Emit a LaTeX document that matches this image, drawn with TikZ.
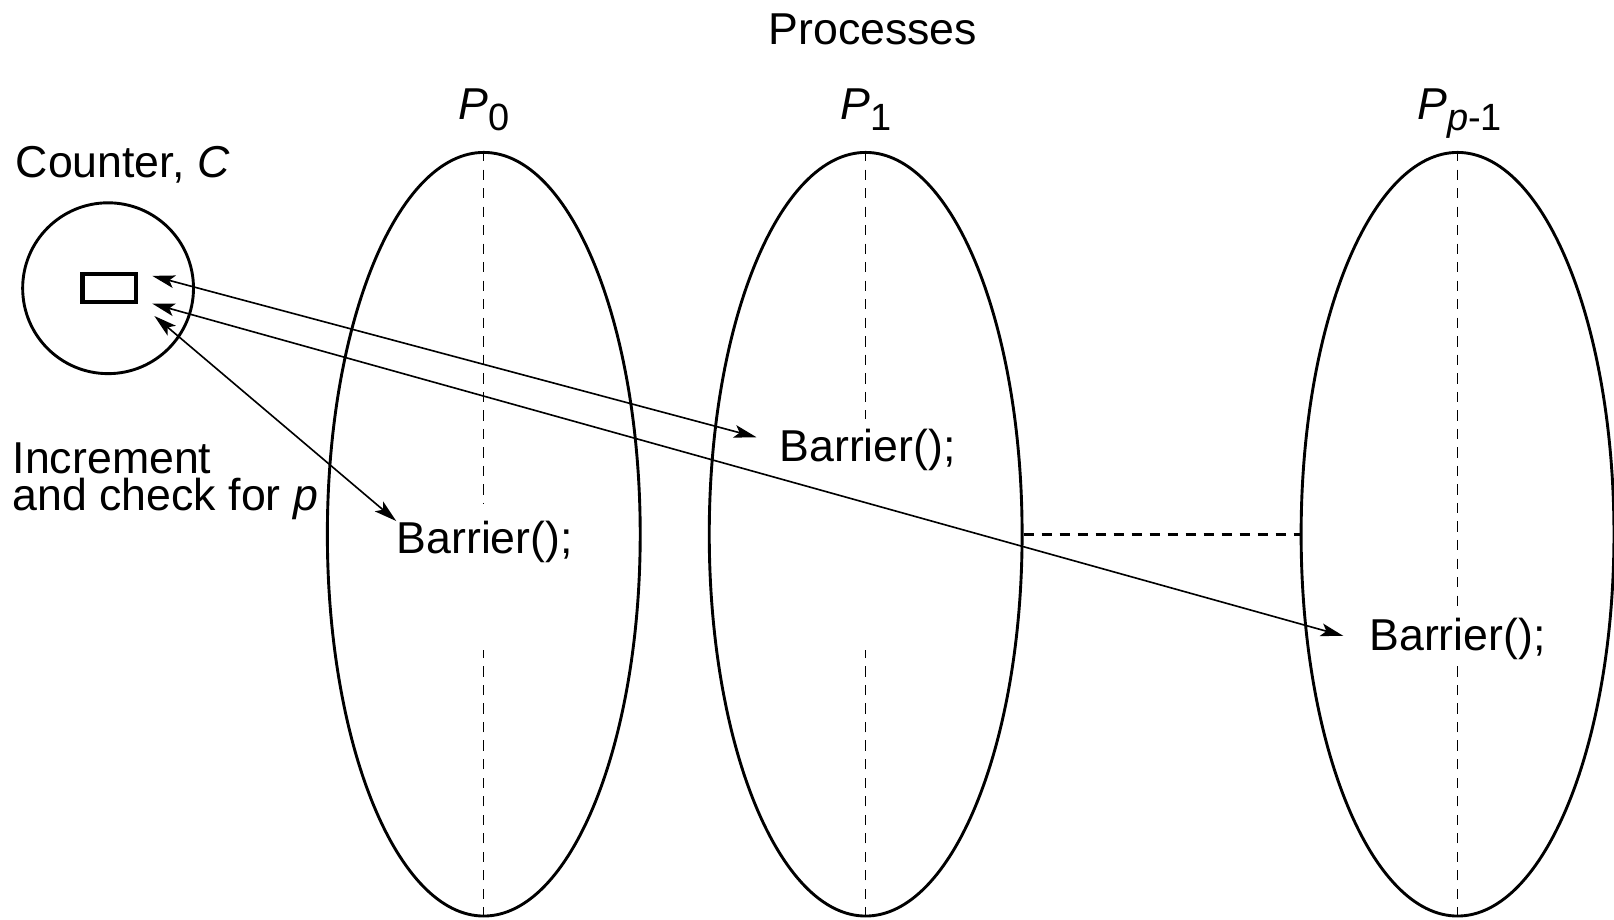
\documentclass[tikz,border=0pt]{standalone}
\usepackage{fontspec}
\setmainfont{Liberation Sans}
\usetikzlibrary{positioning}
\usetikzlibrary{calc}
\usetikzlibrary{arrows.meta}
\usetikzlibrary{shapes.geometric}
\newcommand{\procname}[2]{{\itshape #1}\raisebox{-0.25em}{\fontsize{21}{21}\selectfont #2}}

\begin{document}
\begin{tikzpicture}[x=0.02cm, y=-0.02cm, >={Stealth[length=0.44cm, width=0.25cm, inset=0.1cm]}, font=\fontsize{24.7}{20.6}\selectfont]
    \tikzstyle{proc}=[draw=black, ellipse, line width=1.6pt, minimum width=6.08cm, minimum height=14.84cm, inner sep=0pt]
    \tikzstyle{txt}=[inner sep=0pt]
    \tikzstyle{midline}=[draw=black, line width=0.7pt, dash pattern=on 0.2cm off 0.16cm]
    \tikzstyle{gapline}=[draw=black, line width=1.6pt, dash pattern=on 0.2cm off 0.15cm]
    \tikzstyle{link}=[<->, line width=0.9pt]

    \useasboundingbox (0,0) rectangle (1568,893);

    % processes
    \node[proc] (p0) at (470,519) {};
    \node[proc] (p1) at (841,519) {};
    \node[proc] (pp) at (1416,519) {};

    \node[txt, anchor=base] (title) at (848,43) {Processes};
    \node[txt, above=0.38cm of p0] (lp0) {\procname{P}{0}};
    \node[txt, anchor=base] (lp1) at (p1.north |- lp0.base) {\procname{P}{1}};
    \node[txt, anchor=base] (lpp) at ([xshift=0.04cm]pp.north |- lp0.base) {\procname{P}{{\itshape p}-1}};

    \node[txt, anchor=base west] (bar0) at (385,538) {Barrier();};
    \node[txt, anchor=base west] (bar1) at (757,448) {Barrier();};
    \node[txt, anchor=base west] (barp) at (1330,632) {Barrier();};

    \draw[midline] (p0.north) -- ++(0,342);
    \draw[midline] (p0.south) -- ++(0,-260);
    \draw[midline] (p1.north) -- ++(0,260);
    \draw[midline] (p1.south) -- ++(0,-260);
    \draw[midline] (pp.north) -- ++(0,447);
    \draw[midline] (pp.south) -- ++(0,-248);

    \draw[gapline] (p1.east) -- (pp.west);

    % counter
    \node[draw=black, circle, line width=1.6pt, minimum size=3.32cm] (cnt) at (105,280) {};
    \node[draw=black, line width=2.4pt, minimum width=1.04cm, minimum height=0.54cm, inner sep=0pt] (reg) at (106,280) {};
    \node[txt, anchor=base west] at (15,172) {Counter, {\itshape C}};
    \node[txt, anchor=north west, align=left] (incr) at (12,430) {Increment\\and check for {\itshape p}};

    \coordinate (in1) at (148,268);
    \coordinate (in2) at (148,295);
    \coordinate (in3) at (150,307);

    \path[link] (in1) edge ([xshift=-0.44cm, yshift=0.24cm]bar1.west);
    \path[link] (in2) edge ([xshift=-0.5cm, yshift=0.06cm]barp.west);
    \path[link] (in3) edge (bar0.north west);

\end{tikzpicture}
\end{document}
